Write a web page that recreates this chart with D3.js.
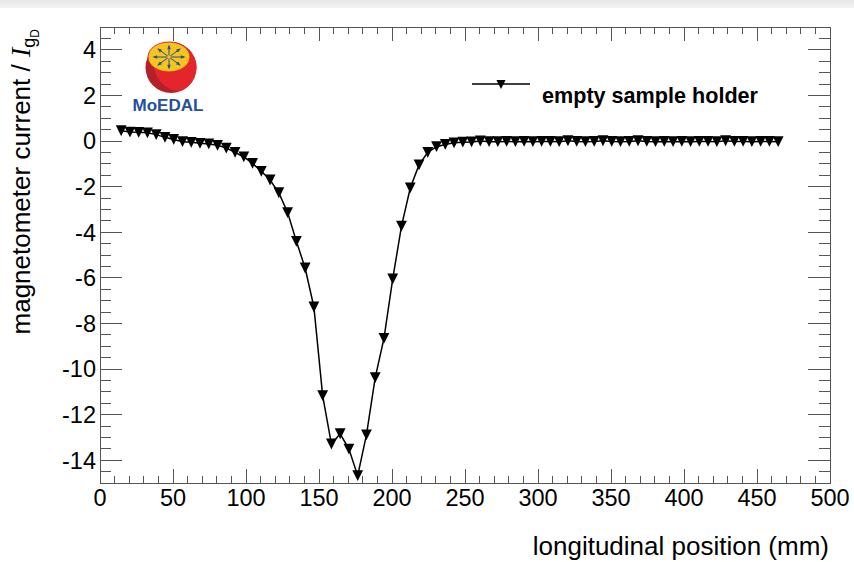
<!DOCTYPE html>
<html>
<head>
<meta charset="utf-8">
<script src="https://cdn.jsdelivr.net/npm/d3@7"></script>
<style>
  html, body { margin: 0; padding: 0; background: #fff; }
  svg { display: block; }
  text { font-family: "Liberation Sans", Arial, Helvetica, sans-serif; fill: #000; }
</style>
</head>
<body>
<svg id="chart" width="854" height="562"></svg>
<script>
// Scan positions along the holder (mm)
const positions = [
  14.5, 20.5, 26.5, 32.5, 38.5, 44.5, 50.5, 56.5, 62.5, 68.5,
  74.5, 80.5, 86.5, 92.5, 98.5, 104.5, 110.5, 116.5, 122.5, 128.5,
  134.5, 140.5, 146.5, 152.5, 158.5, 164.5, 170.5, 176.5, 182.5, 188.5,
  194.5, 200.5, 206.5, 212.5, 218.5, 224.5, 230.5, 236.5, 242.5, 248.5,
  254.5, 260.5, 266.5, 272.5, 278.5, 284.5, 290.5, 296.5, 302.5, 308.5,
  314.5, 320.5, 326.5, 332.5, 338.5, 344.5, 350.5, 356.5, 362.5, 368.5,
  374.5, 380.5, 386.5, 392.5, 398.5, 404.5, 410.5, 416.5, 422.5, 428.5,
  434.5, 440.5, 446.5, 452.5, 458.5, 464.5
];
// Magnetometer current for the empty sample holder
const currents = [
  0.45, 0.39, 0.38, 0.36, 0.28, 0.16, 0.07, -0.03, -0.06, -0.10,
  -0.13, -0.19, -0.31, -0.50, -0.70, -0.98, -1.33, -1.71, -2.27, -3.14,
  -4.40, -5.57, -7.28, -11.17, -13.29, -12.84, -13.51, -14.68, -12.89, -10.38,
  -8.66, -6.05, -3.73, -2.06, -1.05, -0.50, -0.25, -0.15, -0.08, -0.05,
  -0.04, 0.00, -0.03, -0.03, -0.02, -0.03, -0.02, -0.03, -0.02, -0.02,
  -0.03, 0.01, -0.02, -0.03, -0.02, 0.01, -0.02, -0.03, -0.02, 0.01,
  -0.02, -0.03, -0.02, -0.03, -0.02, -0.03, -0.02, -0.02, -0.03, 0.01,
  -0.02, -0.02, -0.03, -0.02, -0.02, -0.03
];
const xTicks = [0, 50, 100, 150, 200, 250, 300, 350, 400, 450, 500];
const yTicks = [-14, -12, -10, -8, -6, -4, -2, 0, 2, 4];
const legendLabel = "empty sample holder";

const data = positions.map((p, i) => ({ x: p, y: currents[i] }));

const svg = d3.select("#chart");
const frame = { left: 100, right: 830, top: 27, bottom: 483 };

// faint grey strip along the top edge
const defs = svg.append("defs");
const grad = defs.append("linearGradient")
  .attr("id", "topband").attr("x1", 0).attr("x2", 0).attr("y1", 0).attr("y2", 1);
grad.append("stop").attr("offset", "0%").attr("stop-color", "#e6e6e6");
grad.append("stop").attr("offset", "100%").attr("stop-color", "#f3f3f3");
svg.append("rect").attr("x", 0).attr("y", 0).attr("width", 854).attr("height", 8)
  .attr("fill", "url(#topband)");

const x = d3.scaleLinear().domain([0, 500]).range([frame.left, frame.right]);
const y = d3.scaleLinear().domain([-15, 5]).range([frame.bottom, frame.top]);

const tickColor = "#555";
const axisG = svg.append("g");

// x ticks (bottom and mirrored at the top)
d3.range(0, 501, 10).forEach(v => {
  const len = v % 50 === 0 ? 14 : 7;
  [[frame.bottom, -len], [frame.top, len]].forEach(([y0, d]) => {
    axisG.append("line").attr("x1", x(v)).attr("x2", x(v))
      .attr("y1", y0).attr("y2", y0 + d)
      .attr("stroke", tickColor).attr("stroke-width", 1).attr("shape-rendering", "crispEdges");
  });
});
// y ticks (left and mirrored at the right)
d3.range(-15, 5.01, 0.5).forEach(v => {
  const len = Math.abs(v % 2) < 1e-9 ? 22 : 11;
  [[frame.left, len], [frame.right, -len]].forEach(([x0, d]) => {
    axisG.append("line").attr("y1", y(v)).attr("y2", y(v))
      .attr("x1", x0).attr("x2", x0 + d)
      .attr("stroke", tickColor).attr("stroke-width", 1).attr("shape-rendering", "crispEdges");
  });
});

// frame
svg.append("rect")
  .attr("x", frame.left).attr("y", frame.top)
  .attr("width", frame.right - frame.left).attr("height", frame.bottom - frame.top)
  .attr("fill", "none").attr("stroke", tickColor).attr("stroke-width", 1)
  .attr("shape-rendering", "crispEdges");

// tick labels
svg.append("g").selectAll("text").data(xTicks).join("text")
  .attr("x", d => x(d)).attr("y", 506)
  .attr("text-anchor", "middle").attr("font-size", 23.5)
  .text(d => d);
svg.append("g").selectAll("text").data(yTicks).join("text")
  .attr("x", 96).attr("y", d => y(d)).attr("dy", "0.36em")
  .attr("text-anchor", "end").attr("font-size", 23.5)
  .text(d => d);

// axis titles
svg.append("text")
  .attr("x", 829).attr("y", 555)
  .attr("text-anchor", "end").attr("font-size", 26)
  .text("longitudinal position (mm)");

const yTitle = svg.append("text")
  .attr("transform", "translate(30,29) rotate(-90)")
  .attr("text-anchor", "end").attr("font-size", 26);
yTitle.append("tspan").text("magnetometer current / ");
yTitle.append("tspan")
  .attr("font-family", "'Liberation Serif', 'Times New Roman', serif")
  .attr("font-style", "italic").attr("font-size", 28).text("I");
yTitle.append("tspan").attr("font-size", 18).attr("dy", 5).text("g");
yTitle.append("tspan").attr("font-size", 12).attr("dy", 4).text("D");

// data line and markers
const line = d3.line().x(d => x(d.x)).y(d => y(d.y));
svg.append("path").datum(data)
  .attr("d", line).attr("fill", "none")
  .attr("stroke", "#000").attr("stroke-width", 1.5);

const tri = (cx, cy, r) =>
  `M${cx - r},${cy - r}L${cx + r},${cy - r}L${cx},${cy + r}Z`;
svg.append("g").selectAll("path").data(data).join("path")
  .attr("d", d => tri(x(d.x), y(d.y), 5.4))
  .attr("fill", "#000");

// legend
svg.append("line")
  .attr("x1", 472).attr("x2", 530).attr("y1", 84).attr("y2", 84)
  .attr("stroke", "#000").attr("stroke-width", 1.5);
svg.append("path").attr("d", tri(501, 84.5, 4.6)).attr("fill", "#000");
svg.append("text")
  .attr("x", 542).attr("y", 103)
  .attr("font-size", 21.6).attr("font-weight", "bold")
  .text(legendLabel);

// MoEDAL emblem
const logo = svg.append("g");
const lcx = 171, lcy = 67.5, lr = 25.5;
defs.append("clipPath").attr("id", "ballclip")
  .append("circle").attr("cx", lcx).attr("cy", lcy).attr("r", lr);
logo.append("circle").attr("cx", lcx).attr("cy", lcy).attr("r", lr).attr("fill", "#b51f29");
logo.append("ellipse").attr("clip-path", "url(#ballclip)")
  .attr("cx", lcx + 9).attr("cy", lcy - 5).attr("rx", lr + 1).attr("ry", lr + 3)
  .attr("fill", "#e4262c");
logo.append("ellipse")
  .attr("cx", 169).attr("cy", 57).attr("rx", 21).attr("ry", 15)
  .attr("fill", "#f6c51b").attr("stroke", "#e4262c").attr("stroke-width", 1);
const arrowG = logo.append("g").attr("stroke", "#2a4d9a").attr("stroke-width", 1).attr("fill", "#2a4d9a");
d3.range(8).forEach(k => {
  const a = k * Math.PI / 4;
  const ex = 169 + Math.cos(a) * 15, ey = 57 + Math.sin(a) * 11;
  arrowG.append("line").attr("x1", 169).attr("y1", 57).attr("x2", ex).attr("y2", ey);
  const ang = Math.atan2(ey - 57, ex - 169);
  const h = 3.2, w = 1.8;
  const p1 = [ex + Math.cos(ang) * 1.5, ey + Math.sin(ang) * 1.5];
  const bx = ex - Math.cos(ang) * h, by = ey - Math.sin(ang) * h;
  const p2 = [bx + Math.cos(ang + Math.PI / 2) * w, by + Math.sin(ang + Math.PI / 2) * w];
  const p3 = [bx - Math.cos(ang + Math.PI / 2) * w, by - Math.sin(ang + Math.PI / 2) * w];
  arrowG.append("path").attr("stroke", "none")
    .attr("d", `M${p1}L${p2}L${p3}Z`);
});
logo.append("circle").attr("cx", 169).attr("cy", 57).attr("r", 1.8).attr("fill", "#f6c51b");
logo.append("text")
  .attr("x", 168).attr("y", 111).attr("text-anchor", "middle")
  .attr("font-size", 17).attr("font-weight", "bold")
  .style("fill", "#24509c")
  .text("MoEDAL");
</script>
</body>
</html>
